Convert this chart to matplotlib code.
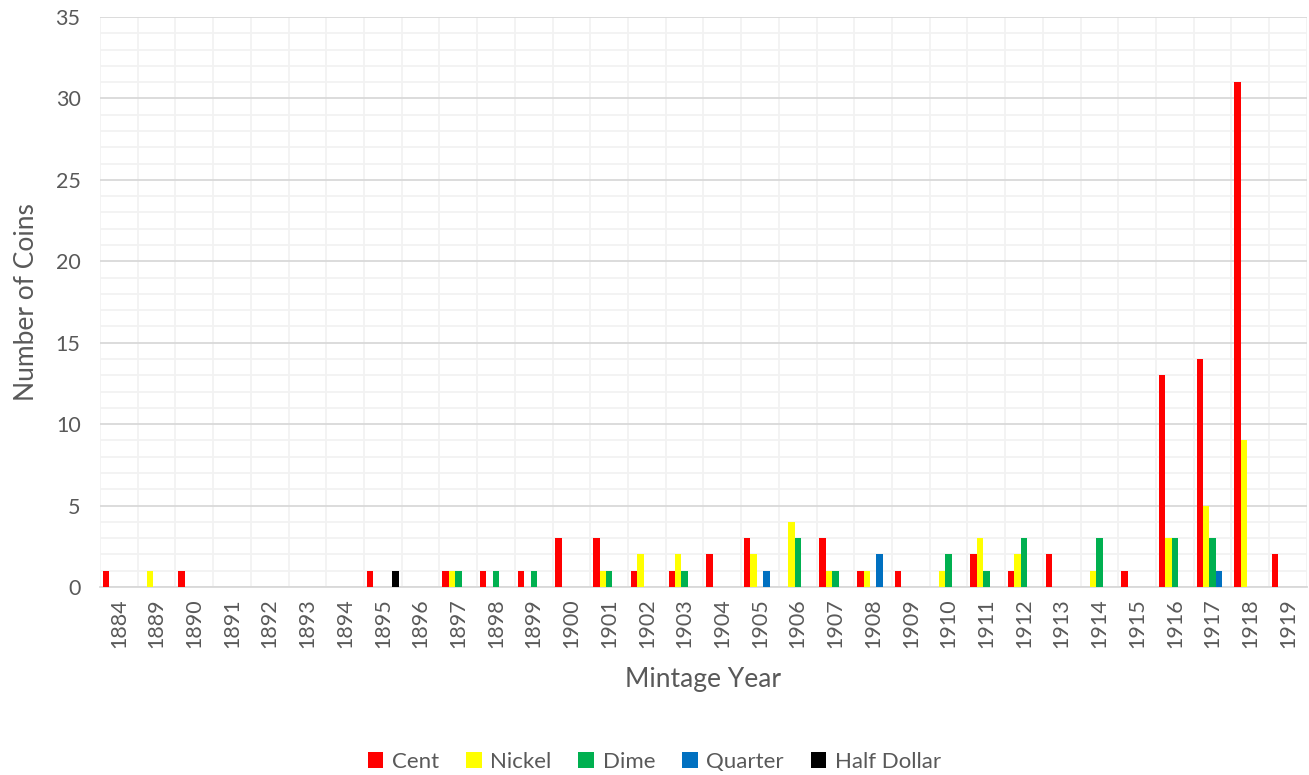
import numpy as np
import matplotlib.pyplot as plt
from matplotlib.ticker import MultipleLocator

plt.rcParams['font.family'] = ['Lato', 'DejaVu Sans']

years = ['1884', '1889', '1890', '1891', '1892', '1893', '1894', '1895',
         '1896', '1897', '1898', '1899', '1900', '1901', '1902', '1903',
         '1904', '1905', '1906', '1907', '1908', '1909', '1910', '1911',
         '1912', '1913', '1914', '1915', '1916', '1917', '1918', '1919']

cent = [1, 0, 1, 0, 0, 0, 0, 1, 0, 1, 1, 1, 3, 3, 1, 1,
        2, 3, 0, 3, 1, 1, 0, 2, 1, 2, 0, 1, 13, 14, 31, 2]
nickel = [0, 1, 0, 0, 0, 0, 0, 0, 0, 1, 0, 0, 0, 1, 2, 2,
          0, 2, 4, 1, 1, 0, 1, 3, 2, 0, 1, 0, 3, 5, 9, 0]
dime = [0, 0, 0, 0, 0, 0, 0, 0, 0, 1, 1, 1, 0, 1, 0, 1,
        0, 0, 3, 1, 0, 0, 2, 1, 3, 0, 3, 0, 3, 3, 0, 0]
quarter = [0, 0, 0, 0, 0, 0, 0, 0, 0, 0, 0, 0, 0, 0, 0, 0,
           0, 1, 0, 0, 2, 0, 0, 0, 0, 0, 0, 0, 0, 1, 0, 0]
half_dollar = [0, 0, 0, 0, 0, 0, 0, 1, 0, 0, 0, 0, 0, 0, 0, 0,
               0, 0, 0, 0, 0, 0, 0, 0, 0, 0, 0, 0, 0, 0, 0, 0]

series = [('Cent', cent, '#FF0000'),
          ('Nickel', nickel, '#FFFF00'),
          ('Dime', dime, '#00B050'),
          ('Quarter', quarter, '#0070C0'),
          ('Half Dollar', half_dollar, '#000000')]

text_col = '#595959'

fig = plt.figure(figsize=(13.09, 7.75), dpi=100)
ax = fig.add_axes([0.0764, 0.2426, 0.922, 0.7354])

x = np.arange(len(years))
w = 0.17
for i, (name, vals, col) in enumerate(series):
    ax.bar(x + (i - 2) * w, vals, width=w, color=col, label=name, zorder=3)

ax.set_xlim(-0.5, len(years) - 0.5)
ax.set_ylim(0, 35)
ax.yaxis.set_major_locator(MultipleLocator(5))
ax.yaxis.set_minor_locator(MultipleLocator(1))
ax.set_xticks(x)
ax.set_xticks(np.arange(-0.5, len(years), 0.5), minor=True)
ax.set_xticklabels(years, rotation=90, fontsize=15.5, color=text_col)
ax.tick_params(axis='y', labelsize=15.5, labelcolor=text_col, length=0, pad=14)
ax.tick_params(axis='x', length=0, pad=8)
ax.tick_params(which='minor', length=0)

ax.grid(which='major', axis='y', color='#D9D9D9', linewidth=1.3, zorder=0)
ax.grid(which='minor', axis='y', color='#F2F2F2', linewidth=1.3, zorder=0)
ax.grid(which='minor', axis='x', color='#F2F2F2', linewidth=1.3, zorder=0)

for s in ['top', 'right', 'left']:
    ax.spines[s].set_visible(False)
ax.spines['bottom'].set_color('#D9D9D9')
ax.spines['bottom'].set_linewidth(1.3)

ax.set_xlabel('Mintage Year', fontsize=19, color=text_col, labelpad=14)
ax.set_ylabel('Number of Coins', fontsize=19, color=text_col, labelpad=12)

fig.legend(loc='center', bbox_to_anchor=(0.5, 0.017), ncol=5, frameon=False,
           fontsize=16, labelcolor=text_col, handlelength=0.7, handleheight=0.7,
           handletextpad=0.4, columnspacing=1.2)

fig.savefig('out.png', dpi=100)
